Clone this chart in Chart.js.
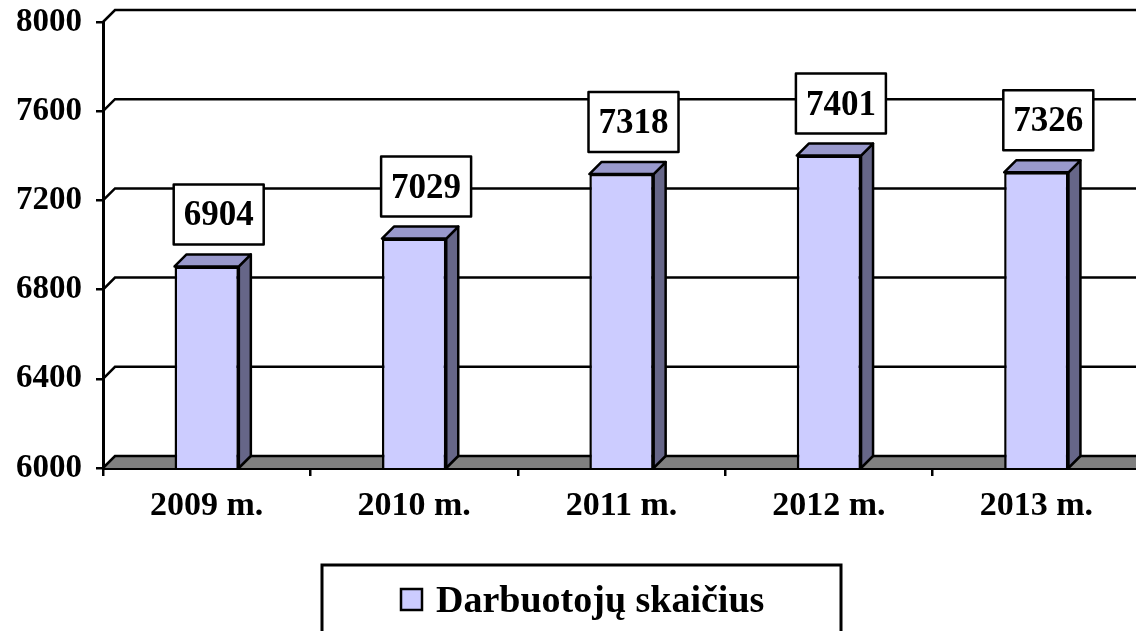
<!doctype html>
<html>
  <head>
    <meta charset="utf-8" />
    <title>Darbuotojų skaičius</title>
    <script src="https://cdn.jsdelivr.net/npm/chart.js"></script>
    <style>
      body {
        margin: 0;
        overflow: hidden;
        background: #fff;
      }
      #wrap {
        position: relative;
        width: 1140px;
        height: 631px;
      }
    </style>
  </head>

  <body>
    <div id="wrap"><canvas id="barChart"></canvas></div>

    <script>
      // chart data
      var years = ["2009 m.", "2010 m.", "2011 m.", "2012 m.", "2013 m."];
      var workers = [6904, 7029, 7318, 7401, 7326];
      var seriesName = "Darbuotojų skaičius";

      var DEPTH = 12; // 3d offset in px
      var FONT = "'Liberation Serif', 'Times New Roman', serif";

      // floor, back wall grid lines, bar sides/tops and value boxes
      var fake3d = {
        id: "fake3d",
        beforeDatasetsDraw: function (chart) {
          var ctx = chart.ctx;
          var area = chart.chartArea;
          var yScale = chart.scales.y;
          var right = chart.width + 20;
          ctx.save();
          ctx.strokeStyle = "#000";
          ctx.lineWidth = 2.5;

          // floor
          ctx.beginPath();
          ctx.moveTo(area.left, area.bottom);
          ctx.lineTo(right, area.bottom);
          ctx.lineTo(right, area.bottom - DEPTH);
          ctx.lineTo(area.left + DEPTH, area.bottom - DEPTH);
          ctx.closePath();
          ctx.fillStyle = "#808080";
          ctx.fill();

          // grid lines on the back wall
          yScale.ticks.forEach(function (t) {
            var y = yScale.getPixelForValue(t.value);
            ctx.beginPath();
            ctx.moveTo(area.left, y);
            ctx.lineTo(area.left + DEPTH, y - DEPTH);
            ctx.lineTo(right, y - DEPTH);
            ctx.stroke();
          });
          ctx.restore();
        },
        afterDatasetsDraw: function (chart) {
          var ctx = chart.ctx;
          var meta = chart.getDatasetMeta(0);
          var yScale = chart.scales.y;
          var floorY = yScale.getPixelForValue(yScale.min);
          ctx.save();
          ctx.strokeStyle = "#000";
          ctx.lineWidth = 2.5;
          ctx.lineJoin = "round";

          meta.data.forEach(function (bar, i) {
            var x1 = bar.x - bar.width / 2;
            var x2 = bar.x + bar.width / 2;
            var top = bar.y;
            var base = Math.min(bar.base, floorY);

            // side
            ctx.beginPath();
            ctx.moveTo(x2, top);
            ctx.lineTo(x2 + DEPTH, top - DEPTH);
            ctx.lineTo(x2 + DEPTH, base - DEPTH);
            ctx.lineTo(x2, base);
            ctx.closePath();
            ctx.fillStyle = "#666688";
            ctx.fill();
            ctx.stroke();

            // top
            ctx.beginPath();
            ctx.moveTo(x1, top);
            ctx.lineTo(x1 + DEPTH, top - DEPTH);
            ctx.lineTo(x2 + DEPTH, top - DEPTH);
            ctx.lineTo(x2, top);
            ctx.closePath();
            ctx.fillStyle = "#9999cc";
            ctx.fill();
            ctx.stroke();

            // value box
            var bw = 90, bh = 60;
            var cx = bar.x + DEPTH;
            var by = top - 22 - bh;
            ctx.fillStyle = "#fff";
            ctx.fillRect(cx - bw / 2, by, bw, bh);
            ctx.strokeRect(cx - bw / 2, by, bw, bh);
            ctx.fillStyle = "#000";
            ctx.font = "bold 35px " + FONT;
            ctx.textAlign = "center";
            ctx.textBaseline = "middle";
            ctx.fillText(String(workers[i]), cx, by + bh / 2 + 2);
          });
          ctx.restore();
        },
        afterDraw: function (chart) {
          // legend box, cut by the bottom edge like in the original
          var ctx = chart.ctx;
          var ds = chart.data.datasets[0];
          ctx.save();
          ctx.strokeStyle = "#000";
          ctx.lineWidth = 3;
          ctx.fillStyle = "#fff";
          ctx.fillRect(322, 565, 519, 80);
          ctx.strokeRect(322, 565, 519, 80);

          ctx.lineWidth = 2.5;
          ctx.fillStyle = ds.backgroundColor;
          ctx.fillRect(401, 589, 21, 21);
          ctx.strokeRect(401, 589, 21, 21);

          ctx.fillStyle = "#000";
          ctx.font = "bold 38px " + FONT;
          ctx.textAlign = "left";
          ctx.textBaseline = "middle";
          ctx.fillText(ds.label, 436, 602);
          ctx.restore();
        },
      };

      var ctx = document.getElementById("barChart").getContext("2d");
      var chart = new Chart(ctx, {
        type: "bar",
        data: {
          labels: years,
          datasets: [
            {
              label: seriesName,
              data: workers,
              backgroundColor: "#ccccff",
              borderColor: "#000",
              borderWidth: 2.5,
              categoryPercentage: 1,
              barPercentage: 0.31,
            },
          ],
        },
        options: {
          responsive: true,
          maintainAspectRatio: false,
          animation: false,
          layout: {
            padding: { top: 22, left: 0, right: 0, bottom: 0 },
          },
          plugins: {
            legend: { display: false },
            tooltip: { enabled: false },
          },
          scales: {
            x: {
              afterFit: function (scale) {
                scale.height = 163;
                scale.paddingLeft = 0;
                scale.paddingRight = 0;
              },
              grid: {
                offset: true,
                drawOnChartArea: false,
                drawTicks: true,
                tickLength: 8,
                color: "#000",
                lineWidth: 2.5,
              },
              border: { display: true, color: "#000", width: 3 },
              ticks: {
                color: "#000",
                padding: 10,
                font: { family: FONT, size: 34, weight: "bold" },
              },
            },
            y: {
              min: 6000,
              max: 8000,
              afterFit: function (scale) {
                scale.width = 103;
                scale.paddingTop = 0;
                scale.paddingBottom = 0;
              },
              grid: {
                drawOnChartArea: false,
                drawTicks: true,
                tickLength: 7,
                color: "#000",
                lineWidth: 2.5,
              },
              border: { display: true, color: "#000", width: 3 },
              ticks: {
                stepSize: 400,
                color: "#000",
                padding: 14,
                font: { family: FONT, size: 33, weight: "bold" },
                callback: function (value) {
                  return String(value);
                },
              },
            },
          },
        },
        plugins: [fake3d],
      });
    </script>
  </body>
</html>
